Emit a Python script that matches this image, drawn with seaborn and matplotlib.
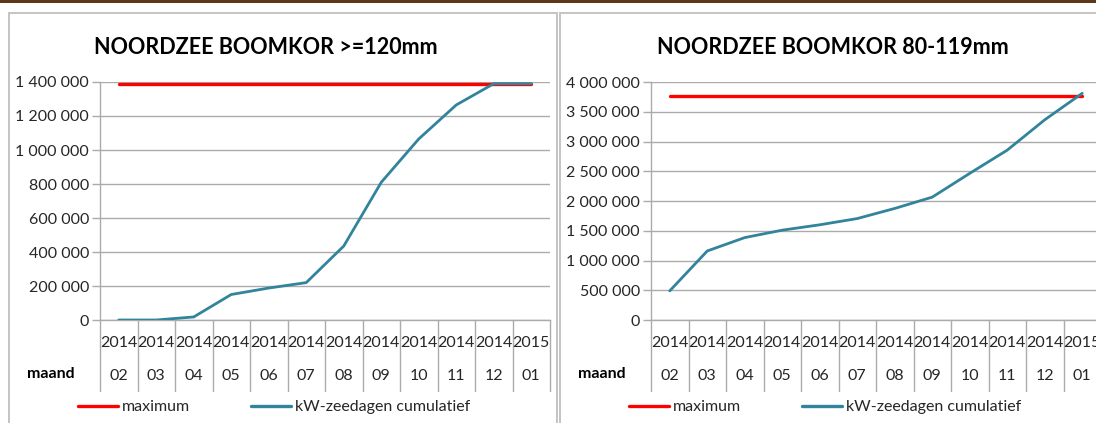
import matplotlib
matplotlib.use("Agg")
import matplotlib.pyplot as plt
import matplotlib.patches as mpatches
from matplotlib.lines import Line2D
from matplotlib.ticker import FuncFormatter, MultipleLocator
import matplotlib.transforms as mtransforms
import seaborn as sns
import pandas as pd

# ---- data -----------------------------------------------------------------
years = ["2014"] * 11 + ["2015"]
months = ["02", "03", "04", "05", "06", "07", "08", "09", "10", "11", "12", "01"]

max_120 = 1390000
cum_120 = [0, 0, 18000, 150000, 188000, 220000, 435000, 810000,
           1065000, 1265000, 1390000, 1390000]

max_80 = 3770000
cum_80 = [490000, 1160000, 1385000, 1510000, 1600000, 1705000, 1875000,
          2065000, 2465000, 2855000, 3365000, 3810000]

titles = ["NOORDZEE BOOMKOR >=120mm", "NOORDZEE BOOMKOR 80-119mm"]
legend_labels = ["maximum", "kW-zeedagen cumulatief"]
row_label = "maand"

RED = "#FF0000"
TEAL = "#31849B"
GRID = "#ABABAB"
TEXT = "#262626"

# ---- figure ---------------------------------------------------------------
sns.set_theme(style="white")
plt.rcParams["font.family"] = ["Lato", "DejaVu Sans"]

W, H = 1096, 423
fig = plt.figure(figsize=(W / 100, H / 100), dpi=100)


def fx(px):
    return px / W


def fy(py):
    return 1 - py / H


# top band and panel frames
fig.patches.append(mpatches.Rectangle((0, fy(3.5)), 1, 3.5 / H, transform=fig.transFigure,
                                      facecolor="#5C3818", edgecolor="none", zorder=0))
fig.patches.append(mpatches.Rectangle((fx(9), fy(430)), fx(557 - 9), (430 - 13.5) / H,
                                      transform=fig.transFigure, facecolor="none",
                                      edgecolor="#C4C4C4", linewidth=1.4, zorder=0))
fig.patches.append(mpatches.Rectangle((fx(560), fy(430)), fx(600), (430 - 13.5) / H,
                                      transform=fig.transFigure, facecolor="none",
                                      edgecolor="#C4C4C4", linewidth=1.4, zorder=0))


def fmt_thousands(v, _):
    return f"{int(round(v)):,}".replace(",", " ")


def draw_panel(left_px, title, title_x, cum, mx, ymax, ystep, maand_x):
    # plot area: 450 px wide, 0 at y=320 px, top at y=82 px
    ax = fig.add_axes([fx(left_px), fy(320), fx(450), (320 - 82) / H])
    df = pd.DataFrame({
        "idx": list(range(len(months))) * 2,
        "value": [mx] * len(months) + cum,
        "series": [legend_labels[0]] * len(months) + [legend_labels[1]] * len(months),
    })
    sns.lineplot(data=df[df.series == legend_labels[0]], x="idx", y="value",
                 color=RED, linewidth=2.4, ax=ax, legend=False, zorder=3)
    sns.lineplot(data=df[df.series == legend_labels[1]], x="idx", y="value",
                 color=TEAL, linewidth=2.0, ax=ax, legend=False, zorder=4)

    ax.set_xlim(-0.5, len(months) - 0.5)
    ax.set_ylim(0, ymax)
    ax.yaxis.set_major_locator(MultipleLocator(ystep))
    ax.yaxis.set_major_formatter(FuncFormatter(fmt_thousands))
    ax.grid(axis="y", color=GRID, linewidth=1.0)
    ax.grid(axis="x", visible=False)
    ax.set_xlabel("")
    ax.set_ylabel("")
    ax.set_xticks([])
    for s in ("top", "right"):
        ax.spines[s].set_visible(False)
    for s in ("left", "bottom"):
        ax.spines[s].set_color(GRID)
        ax.spines[s].set_linewidth(1.0)
    ax.tick_params(axis="y", which="major", direction="out", length=6, width=1.0,
                   color=GRID, labelsize=11.5, labelcolor=TEXT, pad=2, left=True)

    # category table below the axis
    trans = mtransforms.blended_transform_factory(ax.transData, ax.transAxes)

    def ay(py):
        return (320 - py) / 238

    for i in range(len(months) + 1):
        ax.plot([i - 0.5, i - 0.5], [0, ay(391)], transform=trans, color=GRID,
                linewidth=1.0, clip_on=False)
    for i, (yr, mo) in enumerate(zip(years, months)):
        ax.text(i, ay(343), yr, transform=trans, ha="center", va="center",
                fontsize=11.5, color=TEXT, clip_on=False)
        ax.text(i, ay(376), mo, transform=trans, ha="center", va="center",
                fontsize=11.5, color=TEXT, clip_on=False)
    fig.text(fx(maand_x), fy(374), row_label, ha="left", va="center",
             fontsize=11.5, fontweight="bold", color="#000000")

    fig.text(fx(title_x), fy(48), title, ha="center", va="center",
             fontsize=15.5, fontweight="bold", color="#000000")

    handles = [Line2D([], [], color=RED, linewidth=2.4),
               Line2D([], [], color=TEAL, linewidth=2.4)]
    leg = fig.legend(handles, legend_labels, loc="center left",
                     bbox_to_anchor=(fx(left_px - 22), fy(407)), ncol=2, frameon=False,
                     fontsize=11.5, handlelength=2.5, handletextpad=0.25,
                     columnspacing=3.8, borderaxespad=0, borderpad=0)
    for t in leg.get_texts():
        t.set_color(TEXT)
    return ax


draw_panel(100, titles[0], 266, cum_120, max_120, 1400000, 200000, 27)
draw_panel(651, titles[1], 833, cum_80, max_80, 4000000, 500000, 578)

fig.savefig("out.png", dpi=100, facecolor="white")
